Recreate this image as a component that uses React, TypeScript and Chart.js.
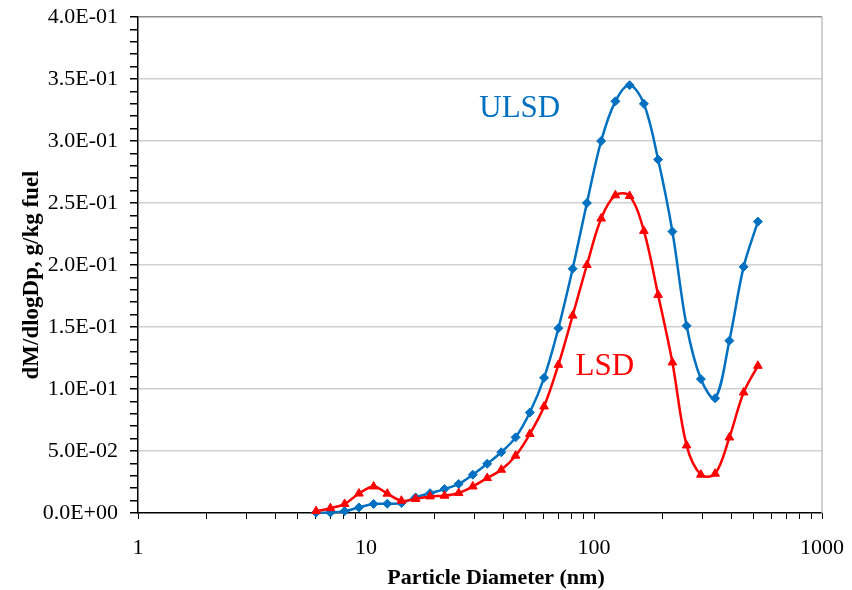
import { useEffect, useRef } from 'react';
import { Chart, registerables } from 'chart.js';

Chart.register(...registerables);

// Particle diameters (nm), EEPS size bins
const diameters = [6.04, 6.98, 8.06, 9.31, 10.8, 12.4, 14.3, 16.5, 19.1, 22.1, 25.5, 29.4, 34.0, 39.2, 45.3, 52.3, 60.4, 69.8, 80.6, 93.1, 107.5, 124.1, 143.3, 165.5, 191.1, 220.7, 254.8, 294.3, 339.8, 392.4, 453.2, 523.3];

// dM/dlogDp, g/kg fuel
const ulsdValues = [0.0003, 0.0004, 0.0015, 0.0045, 0.0073, 0.0075, 0.008, 0.0126, 0.016, 0.0193, 0.0234, 0.0309, 0.0397, 0.049, 0.061, 0.081, 0.109, 0.149, 0.197, 0.25, 0.3, 0.332, 0.345, 0.33, 0.285, 0.227, 0.151, 0.108, 0.0925, 0.139, 0.1985, 0.235];
const lsdValues = [0.0015, 0.0039, 0.0073, 0.0157, 0.0214, 0.0156, 0.0099, 0.0113, 0.0134, 0.0139, 0.0161, 0.0214, 0.0282, 0.0349, 0.0462, 0.0637, 0.0859, 0.1195, 0.1592, 0.2, 0.2375, 0.2562, 0.2557, 0.2275, 0.1759, 0.1214, 0.0545, 0.0309, 0.0317, 0.0609, 0.0972, 0.1187];

const seriesNames = ['ULSD', 'LSD'];
const xTickValues = [1, 2, 3, 4, 5, 6, 7, 8, 9, 10, 20, 30, 40, 50, 60, 70, 80, 90, 100, 200, 300, 400, 500, 600, 700, 800, 900, 1000];
const yTickValues = Array.from({ length: 41 }, (_, i) => i / 100);
const xTitle = 'Particle Diameter (nm)';
const yTitle = 'dM/dlogDp, g/kg fuel';
// In-plot series labels, anchored in data coordinates (diameter, value)
const seriesLabelAnchors = [
  { text: 'ULSD', x: 31.4, y: 0.319 },
  { text: 'LSD', x: 83.0, y: 0.1114 },
];

const BLUE = '#0070C0';
const RED = '#FF0000';
const SERIF = '"Liberation Serif", "Times New Roman", serif';

function fmtSci(v: number): string {
  if (Math.abs(v) < 1e-12) return '0.0E+00';
  const e = Math.floor(Math.log10(Math.abs(v)) + 1e-9);
  const m = v / Math.pow(10, e);
  const sign = e < 0 ? '-' : '+';
  return m.toFixed(1) + 'E' + sign + String(Math.abs(e)).padStart(2, '0');
}

const isMajorY = (v: number) => Math.abs(v * 20 - Math.round(v * 20)) < 1e-6;
const isDecade = (v: number) => Math.abs(Math.log10(v) - Math.round(Math.log10(v))) < 1e-9;

const decorPlugin = {
  id: 'decor',
  afterDraw(chart: any) {
    const { ctx, chartArea, scales } = chart;
    ctx.save();
    // right border of plot area
    ctx.strokeStyle = '#c0c0c0';
    ctx.lineWidth = 1.5;
    ctx.beginPath();
    ctx.moveTo(chartArea.right, chartArea.top);
    ctx.lineTo(chartArea.right, chartArea.bottom);
    ctx.stroke();

    // series labels
    ctx.font = `31px ${SERIF}`;
    ctx.textAlign = 'left';
    ctx.textBaseline = 'alphabetic';
    seriesLabelAnchors.forEach((a, i) => {
      ctx.fillStyle = i === 0 ? BLUE : RED;
      ctx.fillText(a.text, scales.x.getPixelForValue(a.x), scales.y.getPixelForValue(a.y));
    });

    // axis titles
    ctx.fillStyle = '#000';
    ctx.font = `bold 22px ${SERIF}`;
    ctx.textAlign = 'center';
    ctx.textBaseline = 'middle';
    ctx.fillText(xTitle, (chartArea.left + chartArea.right) / 2 + 16, 578);
    ctx.save();
    ctx.font = `bold 23px ${SERIF}`;
    ctx.translate(32, (chartArea.top + chartArea.bottom) / 2 + 10);
    ctx.rotate(-Math.PI / 2);
    ctx.fillText(yTitle, 0, 0);
    ctx.restore();
    ctx.restore();
  },
};

export default function App() {
  const ref = useRef<HTMLCanvasElement | null>(null);

  useEffect(() => {
    if (!ref.current) return;
    const chart = new Chart(ref.current, {
      type: 'line',
      data: {
        datasets: [
          {
            label: seriesNames[1],
            data: diameters.map((d, i) => ({ x: d, y: lsdValues[i] })),
            borderColor: RED,
            backgroundColor: RED,
            borderWidth: 2.5,
            pointStyle: 'triangle',
            pointRadius: 5,
            pointBorderWidth: 1,
            tension: 0.35,
            clip: false as any,
            order: 0,
          },
          {
            label: seriesNames[0],
            data: diameters.map((d, i) => ({ x: d, y: ulsdValues[i] })),
            borderColor: BLUE,
            backgroundColor: BLUE,
            borderWidth: 2.5,
            pointStyle: 'rectRot',
            pointRadius: 4.5,
            pointBorderWidth: 1,
            tension: 0.35,
            clip: false as any,
            order: 1,
          },
        ],
      },
      options: {
        responsive: false,
        animation: false,
        devicePixelRatio: 1,
        layout: { padding: { top: 17, right: 30, left: 0, bottom: 0 } },
        plugins: {
          legend: { display: false },
          tooltip: { enabled: false },
        },
        scales: {
          x: {
            type: 'logarithmic',
            min: 1,
            max: 1000,
            afterBuildTicks: (scale: any) => {
              scale.ticks = xTickValues.map((v) => ({ value: v, major: isDecade(v) }));
            },
            afterFit: (scale: any) => {
              scale.height = 77;
              scale.paddingLeft = 0;
              scale.paddingRight = 0;
            },
            grid: {
              drawOnChartArea: false,
              color: '#000',
              tickColor: '#000',
              tickLength: 6,
              lineWidth: 1,
            },
            border: { display: true, color: '#000', width: 1.5 },
            ticks: {
              autoSkip: false,
              maxRotation: 0,
              minRotation: 0,
              padding: 16,
              color: '#000',
              font: { family: SERIF, size: 22 },
              callback: (v: any) => (isDecade(Number(v)) ? String(Math.round(Number(v))) : ''),
            },
          },
          y: {
            min: 0,
            max: 0.4,
            afterBuildTicks: (scale: any) => {
              scale.ticks = yTickValues.map((v) => ({ value: v }));
            },
            afterFit: (scale: any) => {
              scale.width = 138;
              scale.paddingTop = 0;
              scale.paddingBottom = 0;
            },
            grid: {
              color: (ctx: any) => {
                const v = ctx.tick ? ctx.tick.value : 0;
                if (!isMajorY(v) || v < 1e-9) return 'rgba(0,0,0,0)';
                return v > 0.399 ? '#8c8c8c' : '#d0d0d0';
              },
              lineWidth: 1.5,
              tickColor: '#000',
              tickLength: 8,
            },
            border: { display: true, color: '#000', width: 1.5 },
            ticks: {
              autoSkip: false,
              padding: 12,
              color: '#000',
              font: { family: SERIF, size: 22 },
              callback: (v: any) => (isMajorY(Number(v)) ? fmtSci(Number(v)) : ''),
            },
          },
        },
      },
      plugins: [decorPlugin],
    } as any);
    return () => chart.destroy();
  }, []);

  return (
    <div style={{ position: 'absolute', left: 0, top: 0, width: 852, height: 590, background: '#fff' }}>
      <canvas ref={ref} width={852} height={590} style={{ display: 'block', width: 852, height: 590 }} />
    </div>
  );
}
